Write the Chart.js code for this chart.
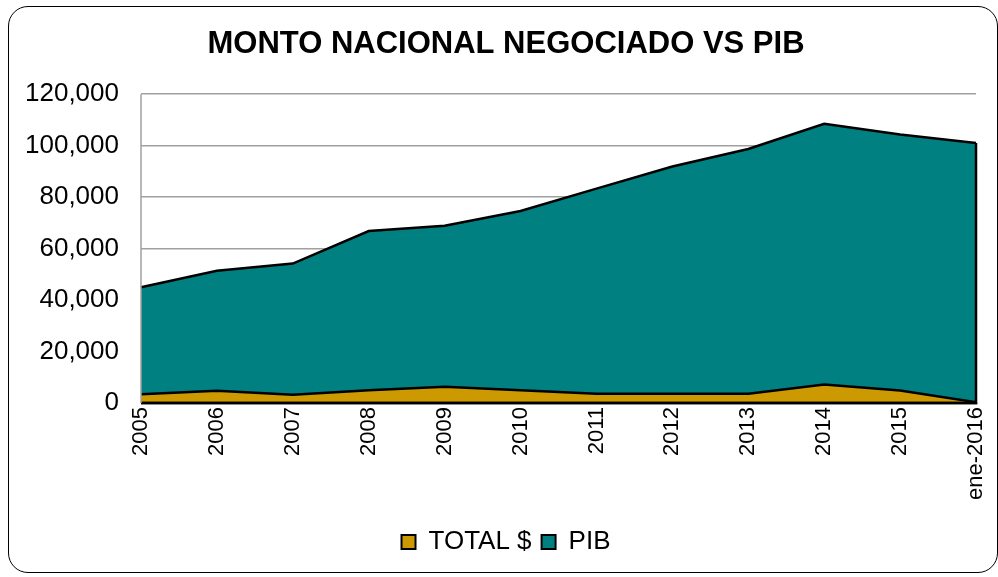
<!DOCTYPE html>
<html>
<head>
<meta charset="utf-8">
<script src="https://cdn.jsdelivr.net/npm/chart.js@4.4.1/dist/chart.umd.min.js"></script>
<style>
  html, body { margin: 0; padding: 0; background: #fff; }
  #wrap { position: relative; width: 998px; height: 577px; overflow: hidden; }
  #frame {
    position: absolute; left: 8px; top: 6px; width: 988px; height: 565px;
    border: 1.5px solid #000; border-radius: 20px; pointer-events: none;
  }
  canvas { position: absolute; left: 0; top: 0; }
</style>
</head>
<body>
<div id="wrap">
  <canvas id="chart" width="998" height="577"></canvas>
  <div id="frame"></div>
</div>
<script>
const years = ["2005", "2006", "2007", "2008", "2009", "2010", "2011", "2012", "2013", "2014", "2015", "ene-2016"];
const totalValues = [3400, 4800, 3200, 5000, 6300, 5000, 3600, 3600, 3600, 7200, 4900, 300];
const pibValues = [45000, 51400, 54200, 66800, 68900, 74600, 83300, 91900, 98700, 108500, 104300, 101000];

const font = "Liberation Sans, Arial, sans-serif";

// closes each area with a black outline on the right and bottom, like the original
const edges = {
  id: "edges",
  afterDatasetsDraw(chart) {
    const ctx = chart.ctx;
    const area = chart.chartArea;
    const y0 = chart.scales.y.getPixelForValue(0);
    ctx.save();
    ctx.strokeStyle = "#000";
    ctx.lineWidth = 2.5;
    for (let i = chart.data.datasets.length - 1; i >= 0; i--) {
      const pts = chart.getDatasetMeta(i).data;
      const last = pts[pts.length - 1];
      ctx.beginPath();
      ctx.moveTo(last.x, last.y);
      ctx.lineTo(last.x, y0);
      ctx.lineTo(pts[0].x, y0);
      ctx.stroke();
    }
    ctx.strokeStyle = "#a0a0a0";
    ctx.lineWidth = 1.5;
    ctx.beginPath();
    ctx.moveTo(area.left, area.top);
    ctx.lineTo(area.left, y0);
    ctx.stroke();
    ctx.restore();
  }
};

new Chart(document.getElementById("chart"), {
  type: "line",
  data: {
    labels: years,
    datasets: [
      {
        label: "TOTAL $",
        data: totalValues,
        backgroundColor: "#CC9900",
        borderColor: "#000",
        borderWidth: 2.5,
        fill: "origin",
        pointRadius: 0,
        tension: 0,
      },
      {
        label: "PIB",
        data: pibValues,
        backgroundColor: "#008080",
        borderColor: "#000",
        borderWidth: 2.5,
        fill: "origin",
        pointRadius: 0,
        tension: 0,
      },
    ],
  },
  options: {
    responsive: false,
    animation: false,
    layout: { padding: { left: 18, right: 4, top: 0, bottom: 12 } },
    plugins: {
      title: {
        display: true,
        text: "MONTO NACIONAL NEGOCIADO VS PIB",
        color: "#000",
        font: { family: font, size: 31, weight: "bold" },
        padding: { top: 26, bottom: 31 },
      },
      legend: {
        position: "bottom",
        labels: {
          color: "#000",
          font: { family: font, size: 26 },
          boxWidth: 14,
          boxHeight: 14,
          padding: 10,
          generateLabels(chart) {
            return chart.data.datasets.map((ds, i) => ({
              text: ds.label,
              fillStyle: ds.backgroundColor,
              strokeStyle: "#000",
              lineWidth: 2,
              datasetIndex: i,
              fontColor: "#000",
            }));
          },
        },
      },
      tooltip: { enabled: false },
    },
    scales: {
      x: {
        offset: false,
        grid: { display: false, drawTicks: false },
        border: { display: false },
        ticks: {
          color: "#000",
          font: { family: font, size: 22 },
          minRotation: 90,
          maxRotation: 90,
          autoSkip: false,
          padding: 4,
        },
        afterFit(scale) {
          scale.height = 116;
          scale.paddingLeft = 0;
          scale.paddingRight = 0;
        },
      },
      y: {
        min: 0,
        max: 120000,
        grid: { color: "#a0a0a0", lineWidth: 1.5, drawTicks: false },
        border: { display: false },
        ticks: {
          stepSize: 20000,
          color: "#000",
          font: { family: font, size: 26 },
          padding: 22,
          callback: (v) => v.toLocaleString("en-US"),
        },
        afterFit(scale) { scale.width = 123; },
      },
      yRight: {
        position: "right",
        grid: { display: false, drawTicks: false },
        border: { display: false },
        ticks: { display: false },
        afterFit(scale) { scale.width = 18; },
      },
    },
  },
  plugins: [edges],
});
</script>
</body>
</html>
